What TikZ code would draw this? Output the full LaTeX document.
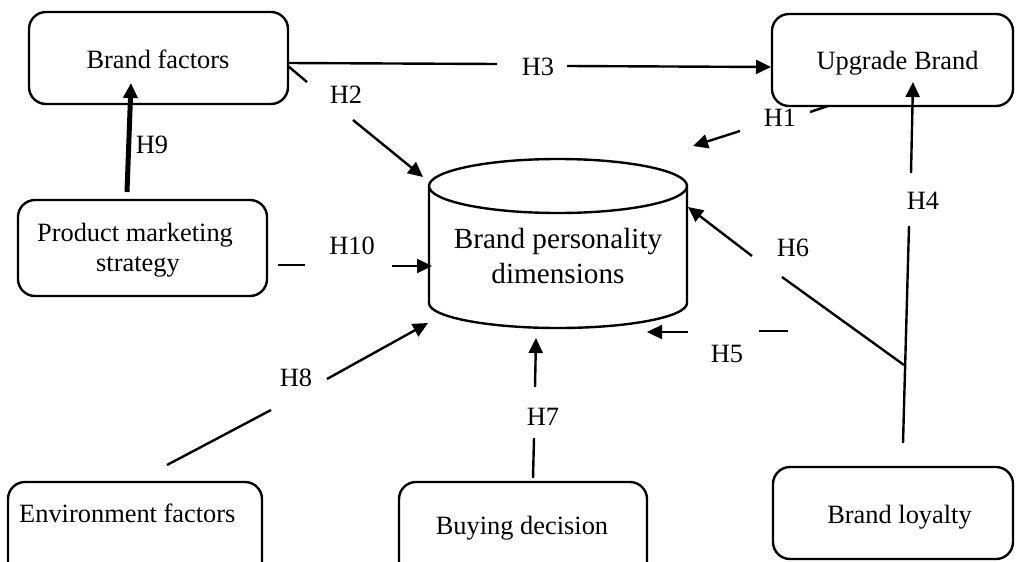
\documentclass[tikz,border=0pt]{standalone}
\usepackage{fontspec}
\setmainfont{Liberation Serif}
\usetikzlibrary{arrows.meta}
\begin{document}
\begin{tikzpicture}[x=1pt,y=-1pt,
  box/.style={draw, rounded corners=17pt, line width=2.4pt, inner sep=0pt},
  txt/.style={font=\fontsize{26.4}{30}\selectfont, inner sep=0pt, anchor=base},
  bigtxt/.style={font=\fontsize{29.2}{34}\selectfont, inner sep=0pt, anchor=base},
  hl/.style={font=\fontsize{26.4}{30}\selectfont, inner sep=0pt},
  seg/.style={line width=2.4pt},
  arr/.style={line width=2.4pt, -{Triangle[length=15pt,width=14pt]}},
]
\useasboundingbox (0,0) rectangle (1017,562);
\clip (0,0) rectangle (1017,562);

% boxes
\node[box, minimum width=259pt, minimum height=92pt] (bf) at (158.5,58) {};
\node[box, minimum width=241pt, minimum height=92pt] (ub) at (892.5,60) {};
\node[box, minimum width=249pt, minimum height=96pt] (pms) at (142.5,248) {};
\node[box, minimum width=254pt, minimum height=98pt] (ef) at (135,531) {};
\node[box, minimum width=248pt, minimum height=98pt] (bd) at (523,531) {};
\node[box, minimum width=240pt, minimum height=92pt] (bl) at (893,513) {};

% cylinder
\coordinate (cyl) at (558,186);
\draw[line width=2.4pt] (cyl) ellipse [x radius=129pt, y radius=27pt];
\draw[line width=2.4pt] (429,186) -- (429,303) arc[start angle=180, end angle=360, x radius=129pt, y radius=25pt] -- (687,186);

% texts
\node[txt] (bft) at (158,68) {Brand factors};
\node[txt] (ubt) at (897.5,69) {Upgrade Brand};
\node[txt] (pmt1) at (135,241) {Product marketing};
\node[txt] (pmt2) at (138,271) {strategy};
\node[bigtxt] (cyt1) at (558,248) {Brand personality};
\node[bigtxt] (cyt2) at (558,283) {dimensions};
\node[txt, anchor=base west] (eft) at (19,522) {Environment factors};
\node[txt] (bdt) at (522,534) {Buying decision};
\node[txt] (blt) at (899.5,523) {Brand loyalty};

% H3
\coordinate (h3a) at (288,63); \coordinate (h3b) at (497,64);
\coordinate (h3c) at (567,66); \coordinate (h3d) at (771,67);
\draw[seg] (h3a) -- (h3b);
\node[hl] (h3) at (538,67) {H3};
\draw[arr] (h3c) -- (h3d);

% H2
\coordinate (h2a) at (288,66); \coordinate (h2b) at (307,82);
\coordinate (h2c) at (353,120); \coordinate (h2d) at (423,177);
\draw[seg] (h2a) -- (h2b);
\node[hl] (h2) at (346,95) {H2};
\draw[arr] (h2c) -- (h2d);

% H1
\coordinate (h1a) at (828,106); \coordinate (h1b) at (810,112);
\coordinate (h1c) at (740,131); \coordinate (h1d) at (693,146);
\draw[seg] (h1a) -- (h1b);
\node[hl] (h1) at (780,118) {H1};
\draw[arr] (h1c) -- (h1d);

% H9
\coordinate (h9a) at (127,192); \coordinate (h9b) at (131,83);
\draw[line width=5pt, -{Triangle[length=15pt,width=14pt]}] (h9a) -- (h9b);
\node[hl] (h9) at (152,145) {H9};

% H10
\coordinate (h10a) at (278,265); \coordinate (h10b) at (305,265);
\coordinate (h10c) at (392,266); \coordinate (h10d) at (432,266);
\draw[seg] (h10a) -- (h10b);
\node[hl] (h10) at (352,246) {H10};
\draw[arr] (h10c) -- (h10d);

% H8
\coordinate (h8a) at (167,465); \coordinate (h8b) at (271,410);
\coordinate (h8c) at (327,379); \coordinate (h8d) at (428,323);
\draw[seg] (h8a) -- (h8b);
\node[hl] (h8) at (296,378) {H8};
\draw[arr] (h8c) -- (h8d);

% H7
\coordinate (h7a) at (533,478); \coordinate (h7b) at (534,438);
\coordinate (h7c) at (535,387); \coordinate (h7d) at (536,338);
\draw[seg] (h7a) -- (h7b);
\node[hl] (h7) at (543,417) {H7};
\draw[arr] (h7c) -- (h7d);

% H5
\coordinate (h5a) at (788,331); \coordinate (h5b) at (759,331);
\coordinate (h5c) at (688,332); \coordinate (h5d) at (647,332);
\draw[seg] (h5a) -- (h5b);
\node[hl] (h5) at (727,354) {H5};
\draw[arr] (h5c) -- (h5d);

% H6
\coordinate (h6a) at (904,365); \coordinate (h6b) at (782,277);
\coordinate (h6c) at (752,256); \coordinate (h6d) at (688,207);
\draw[seg] (h6a) -- (h6b);
\node[hl] (h6) at (793,248) {H6};
\draw[arr] (h6c) -- (h6d);

% H4
\coordinate (h4a) at (903,443); \coordinate (h4b) at (909,226);
\coordinate (h4c) at (911,173); \coordinate (h4d) at (913,82);
\draw[seg] (h4a) -- (h4b);
\node[hl] (h4) at (923,201) {H4};
\draw[arr] (h4c) -- (h4d);
\end{tikzpicture}
\end{document}
